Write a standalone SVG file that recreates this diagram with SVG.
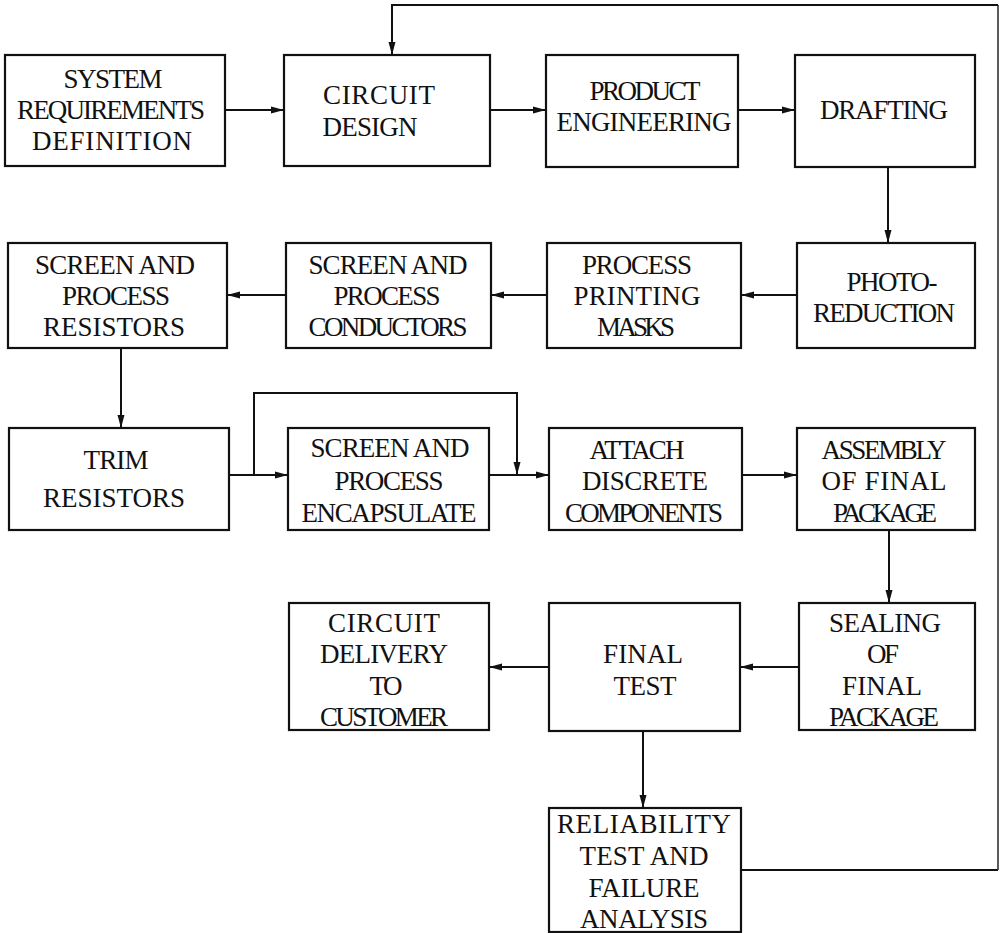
<svg xmlns="http://www.w3.org/2000/svg" width="1001" height="933" viewBox="0 0 1001 933">
<style>
.box{fill:#fff;stroke:#111;stroke-width:2.2}
.t{font-family:"Liberation Serif","Times New Roman",serif;font-size:27px;fill:#111;text-anchor:middle}
.ln{fill:none;stroke:#111;stroke-width:2}
.fb{fill:none;stroke:#333;stroke-width:1.6}
</style>
<defs>
<marker id="ah" markerUnits="userSpaceOnUse" markerWidth="14" markerHeight="10" refX="13" refY="5" orient="auto">
<path d="M0,1.5 L13,5 L0,8.5 Z" fill="#111"/>
</marker>
</defs>
<rect width="1001" height="933" fill="#fff"/>
<g id="connectors">
<line class="ln" x1="225" y1="110" x2="284" y2="110" marker-end="url(#ah)"/>
<line class="ln" x1="490" y1="110" x2="546" y2="110" marker-end="url(#ah)"/>
<line class="ln" x1="738" y1="110" x2="795" y2="110" marker-end="url(#ah)"/>
<line class="ln" x1="888" y1="167" x2="888" y2="243" marker-end="url(#ah)"/>
<line class="ln" x1="797" y1="295" x2="741" y2="295" marker-end="url(#ah)"/>
<line class="ln" x1="547" y1="295" x2="491" y2="295" marker-end="url(#ah)"/>
<line class="ln" x1="286" y1="295" x2="227" y2="295" marker-end="url(#ah)"/>
<line class="ln" x1="121" y1="348" x2="121" y2="428" marker-end="url(#ah)"/>
<line class="ln" x1="229" y1="475" x2="288" y2="475" marker-end="url(#ah)"/>
<polyline class="ln" points="254,475 254,393 517,393 517,475" marker-end="url(#ah)"/>
<line class="ln" x1="489" y1="475" x2="549" y2="475" marker-end="url(#ah)"/>
<line class="ln" x1="742" y1="475" x2="797" y2="475" marker-end="url(#ah)"/>
<line class="ln" x1="889" y1="530" x2="889" y2="603" marker-end="url(#ah)"/>
<line class="ln" x1="799" y1="667" x2="740" y2="667" marker-end="url(#ah)"/>
<line class="ln" x1="549" y1="667" x2="489" y2="667" marker-end="url(#ah)"/>
<line class="ln" x1="643" y1="731" x2="643" y2="808" marker-end="url(#ah)"/>
<polyline class="ln" points="741,870 998,870"/>
<polyline class="fb" points="998,870 998,5"/>
<polyline class="ln" points="998,5 392,5 392,55" marker-end="url(#ah)"/>
</g>
<g id="n1"><rect class="box" x="5" y="55" width="220" height="111"/>
<text class="t" x="113" y="88" textLength="99">SYSTEM</text>
<text class="t" x="111" y="119" textLength="188">REQUIREMENTS</text>
<text class="t" x="112" y="150" textLength="160">DEFINITION</text></g>
<g id="n2"><rect class="box" x="284" y="55" width="206" height="111"/>
<text class="t" x="379" y="104" textLength="112">CIRCUIT</text>
<text class="t" x="370" y="136" textLength="95">DESIGN</text></g>
<g id="n3"><rect class="box" x="546" y="55" width="192" height="112"/>
<text class="t" x="645" y="100" textLength="111">PRODUCT</text>
<text class="t" x="644" y="131" textLength="175">ENGINEERING</text></g>
<g id="n4"><rect class="box" x="795" y="55" width="180" height="112"/>
<text class="t" x="884" y="119" textLength="128">DRAFTING</text></g>
<g id="n5"><rect class="box" x="797" y="243" width="178" height="105"/>
<text class="t" x="892" y="291" textLength="91">PHOTO-</text>
<text class="t" x="884" y="322" textLength="142">REDUCTION</text></g>
<g id="n6"><rect class="box" x="547" y="243" width="194" height="105"/>
<text class="t" x="637" y="274" textLength="110">PROCESS</text>
<text class="t" x="637" y="305" textLength="127">PRINTING</text>
<text class="t" x="636" y="336" textLength="78">MASKS</text></g>
<g id="n7"><rect class="box" x="286" y="243" width="205" height="105"/>
<text class="t" x="388" y="274" textLength="159">SCREEN AND</text>
<text class="t" x="387" y="305" textLength="107">PROCESS</text>
<text class="t" x="388" y="336" textLength="159">CONDUCTORS</text></g>
<g id="n8"><rect class="box" x="8" y="243" width="219" height="105"/>
<text class="t" x="115" y="274" textLength="160">SCREEN AND</text>
<text class="t" x="116" y="305" textLength="108">PROCESS</text>
<text class="t" x="114" y="336" textLength="142">RESISTORS</text></g>
<g id="n9"><rect class="box" x="9" y="428" width="220" height="102"/>
<text class="t" x="116" y="469" textLength="65">TRIM</text>
<text class="t" x="114" y="507" textLength="142">RESISTORS</text></g>
<g id="n10"><rect class="box" x="288" y="428" width="201" height="102"/>
<text class="t" x="390" y="457" textLength="159">SCREEN AND</text>
<text class="t" x="389" y="490" textLength="109">PROCESS</text>
<text class="t" x="389" y="522" textLength="175">ENCAPSULATE</text></g>
<g id="n11"><rect class="box" x="549" y="428" width="193" height="102"/>
<text class="t" x="637" y="459" textLength="95">ATTACH</text>
<text class="t" x="645" y="490" textLength="126">DISCRETE</text>
<text class="t" x="644" y="522" textLength="158">COMPONENTS</text></g>
<g id="n12"><rect class="box" x="797" y="428" width="178" height="102"/>
<text class="t" x="884" y="459" textLength="125">ASSEMBLY</text>
<text class="t" x="884" y="490" textLength="125">OF FINAL</text>
<text class="t" x="885" y="522" textLength="104">PACKAGE</text></g>
<g id="n13"><rect class="box" x="799" y="603" width="176" height="127"/>
<text class="t" x="885" y="632" textLength="112">SEALING</text>
<text class="t" x="883" y="663" textLength="32">OF</text>
<text class="t" x="882" y="695" textLength="80">FINAL</text>
<text class="t" x="884" y="726" textLength="110">PACKAGE</text></g>
<g id="n14"><rect class="box" x="549" y="603" width="191" height="128"/>
<text class="t" x="643" y="663" textLength="80">FINAL</text>
<text class="t" x="645" y="695" textLength="63">TEST</text></g>
<g id="n15"><rect class="box" x="289" y="603" width="200" height="127"/>
<text class="t" x="384" y="632" textLength="112">CIRCUIT</text>
<text class="t" x="384" y="663" textLength="128">DELIVERY</text>
<text class="t" x="386" y="695" textLength="33">TO</text>
<text class="t" x="384" y="726" textLength="128">CUSTOMER</text></g>
<g id="n16"><rect class="box" x="549" y="808" width="192" height="124"/>
<text class="t" x="644" y="833" textLength="174">RELIABILITY</text>
<text class="t" x="644" y="865" textLength="129">TEST AND</text>
<text class="t" x="644" y="897" textLength="111">FAILURE</text>
<text class="t" x="644" y="928" textLength="128">ANALYSIS</text></g>
</svg>
